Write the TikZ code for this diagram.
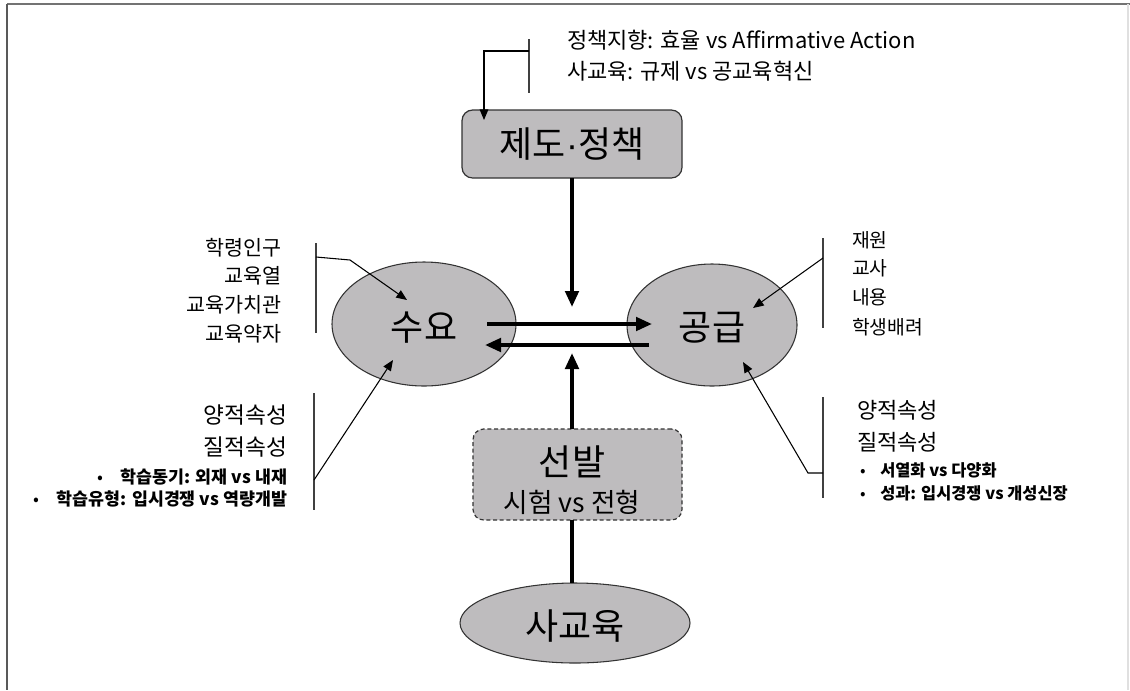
\documentclass[tikz,border=0pt]{standalone}
\usepackage{fontspec}
\setmainfont{Noto Sans CJK KR}
\newfontfamily\dotfont{Liberation Sans}
\usetikzlibrary{shapes.geometric,arrows.meta}
\definecolor{boxfill}{RGB}{190,188,190}
\begin{document}
\begin{tikzpicture}[x=0.75pt,y=-0.75pt,
  every node/.style={inner sep=0pt, outer sep=0pt},
  ell/.style={ellipse, draw=black!80, line width=0.8pt, fill=boxfill},
  rbox/.style={rectangle, rounded corners=8pt, draw=black!80, line width=0.9pt, fill=boxfill},
  big/.style={font=\fontsize{27pt}{30pt}\selectfont},
  mid/.style={font=\fontsize{20pt}{24pt}\selectfont},
  thickarrow/.style={line width=2.8pt, -{Triangle[length=12pt,width=10pt]}},
  thickline/.style={line width=2.8pt},
  thinarrow/.style={line width=0.8pt, -{Triangle[length=8pt,width=6.5pt]}},
  brack/.style={line width=1pt, draw=black!75},
  toplbl/.style={font=\fontsize{16.5pt}{19pt}\selectfont},
  llbl/.style={font=\fontsize{15.5pt}{18pt}\selectfont},
  rlbl/.style={font=\fontsize{14.5pt}{17pt}\selectfont},
  attr/.style={font=\fontsize{17pt}{20pt}\selectfont},
  bul/.style={font=\fontsize{13pt}{15pt}\selectfont\bfseries},
]
\useasboundingbox (0,0) rectangle (1130,690);
\fill[white] (0,0) rectangle (1130,690);
% frame
\draw[line width=2.2pt, draw=black!55] (7,4) -- (1130,4);
\draw[line width=2.2pt, draw=black!65] (7,4) -- (7,690);
\draw[line width=0.8pt, draw=black!12] (1128,4) -- (1128,690);

% main nodes
\node[rbox, minimum width=165pt, minimum height=51pt, big] (jedo) at (572,144) {제도{\dotfont\kern0.02em·\kern0.02em}정책};
\node[ell, minimum width=138pt, minimum height=93pt] (suyo) at (424,324) {};
\node[big] (suyot) at (424,328) {수요};
\node[ell, minimum width=127.5pt, minimum height=91.5pt] (gonggeup) at (712,325) {};
\node[big] (gonggeupt) at (712,328) {공급};
\node[rbox, dashed, dash pattern=on 3pt off 2pt, minimum width=156.75pt, minimum height=68.25pt] (seonbal) at (577.5,474.5) {};
\node[big] (seonbalt) at (572,462) {선발};
\node[mid] (siheom) at (572,502) {시험 vs 전형};
\node[ell, minimum width=172.5pt, minimum height=60pt] (sagyo) at (575,623) {};
\node[big] (sagyot) at (575,626) {사교육};

% central arrows
\coordinate (t1) at (572,307);
\coordinate (t2) at (572,353);
\draw[thickarrow] (jedo.south -| t1) -- (t1);
\draw[thickarrow] (t2 |- seonbal.north) -- (t2);
\draw[thickline] (t2 |- seonbal.south) -- (t2 |- sagyo.north);
\coordinate (a1) at (487,324);
\coordinate (a2) at (652,324);
\coordinate (b1) at (649,345);
\coordinate (b2) at (485,345);
\draw[thickarrow] (a1) -- (a2);
\draw[thickarrow] (b1) -- (b2);

% top labels
\node[toplbl, anchor=west] (p1) at (567,40) {정책지향: 효율 vs Affirmative Action};
\node[toplbl, anchor=west] (p2) at (567,71) {사교육: 규제 vs 공교육혁신};
\coordinate (pb1) at (529,39);
\coordinate (pb2) at (529,93);
\draw[brack] (pb1) -- (pb2);
\coordinate (pc1) at (529,51);
\coordinate (pc2) at (484,51);
\coordinate (pc3) at (484,120);
\draw[thinarrow] (pc1) -- (pc2) -- (pc3);

% left upper labels
\node[llbl, anchor=east] (l1) at (282,248) {학령인구};
\node[llbl, anchor=east] (l2) at (282,276) {교육열};
\node[llbl, anchor=east] (l3) at (282,305) {교육가치관};
\node[llbl, anchor=east] (l4) at (282,334) {교육약자};
\coordinate (lb1) at (316,243);
\coordinate (lb2) at (316,333);
\draw[brack] (lb1) -- (lb2);
\coordinate (lc1) at (316,257);
\coordinate (lc2) at (350,260);
\coordinate (lc3) at (407,300);
\draw[thinarrow] (lc1) -- (lc2) -- (lc3);

% left lower labels
\node[attr, anchor=east] (m1) at (287,415) {양적속성};
\node[attr, anchor=east] (m2) at (287,447) {질적속성};
\node[bul, anchor=east] (m3) at (287,477) {\mdseries•\hspace{13pt}\bfseries 학습동기: 외재 vs 내재};
\node[bul, anchor=east] (m4) at (287,499) {\mdseries•\hspace{13pt}\bfseries 학습유형: 입시경쟁 vs 역량개발};
\coordinate (mb1) at (314,393);
\coordinate (mb2) at (314,510);
\draw[brack] (mb1) -- (mb2);
\coordinate (mc1) at (314,480);
\coordinate (mc2) at (393,360);
\draw[thinarrow] (mc1) -- (mc2);

% right upper labels
\node[rlbl, anchor=west] (r1) at (852,240) {재원};
\node[rlbl, anchor=west] (r2) at (852,268) {교사};
\node[rlbl, anchor=west] (r3) at (852,297) {내용};
\node[rlbl, anchor=west] (r4) at (852,327) {학생배려};
\coordinate (rb1) at (823,238);
\coordinate (rb2) at (823,328);
\draw[brack] (rb1) -- (rb2);
\coordinate (rc1) at (823,258);
\coordinate (rc2) at (753,308);
\draw[thinarrow] (rc1) -- (rc2);

% right lower labels
\node[attr, font=\fontsize{16.5pt}{19pt}\selectfont, anchor=west] (n1) at (857,410) {양적속성};
\node[attr, font=\fontsize{16.5pt}{19pt}\selectfont, anchor=west] (n2) at (857,442) {질적속성};
\node[bul, font=\fontsize{12.3pt}{14pt}\selectfont\bfseries, anchor=west] (n3) at (860,470) {\mdseries•\hspace{11pt}\bfseries 서열화 vs 다양화};
\node[bul, font=\fontsize{12.3pt}{14pt}\selectfont\bfseries, anchor=west] (n4) at (860,493) {\mdseries•\hspace{11pt}\bfseries 성과: 입시경쟁 vs 개성신장};
\coordinate (nb1) at (823,397);
\coordinate (nb2) at (823,498);
\draw[brack] (nb1) -- (nb2);
\coordinate (nc1) at (823,473);
\coordinate (nc2) at (808,473);
\coordinate (nc3) at (743,362);
\draw[thinarrow] (nc1) -- (nc2) -- (nc3);
\end{tikzpicture}
\end{document}
